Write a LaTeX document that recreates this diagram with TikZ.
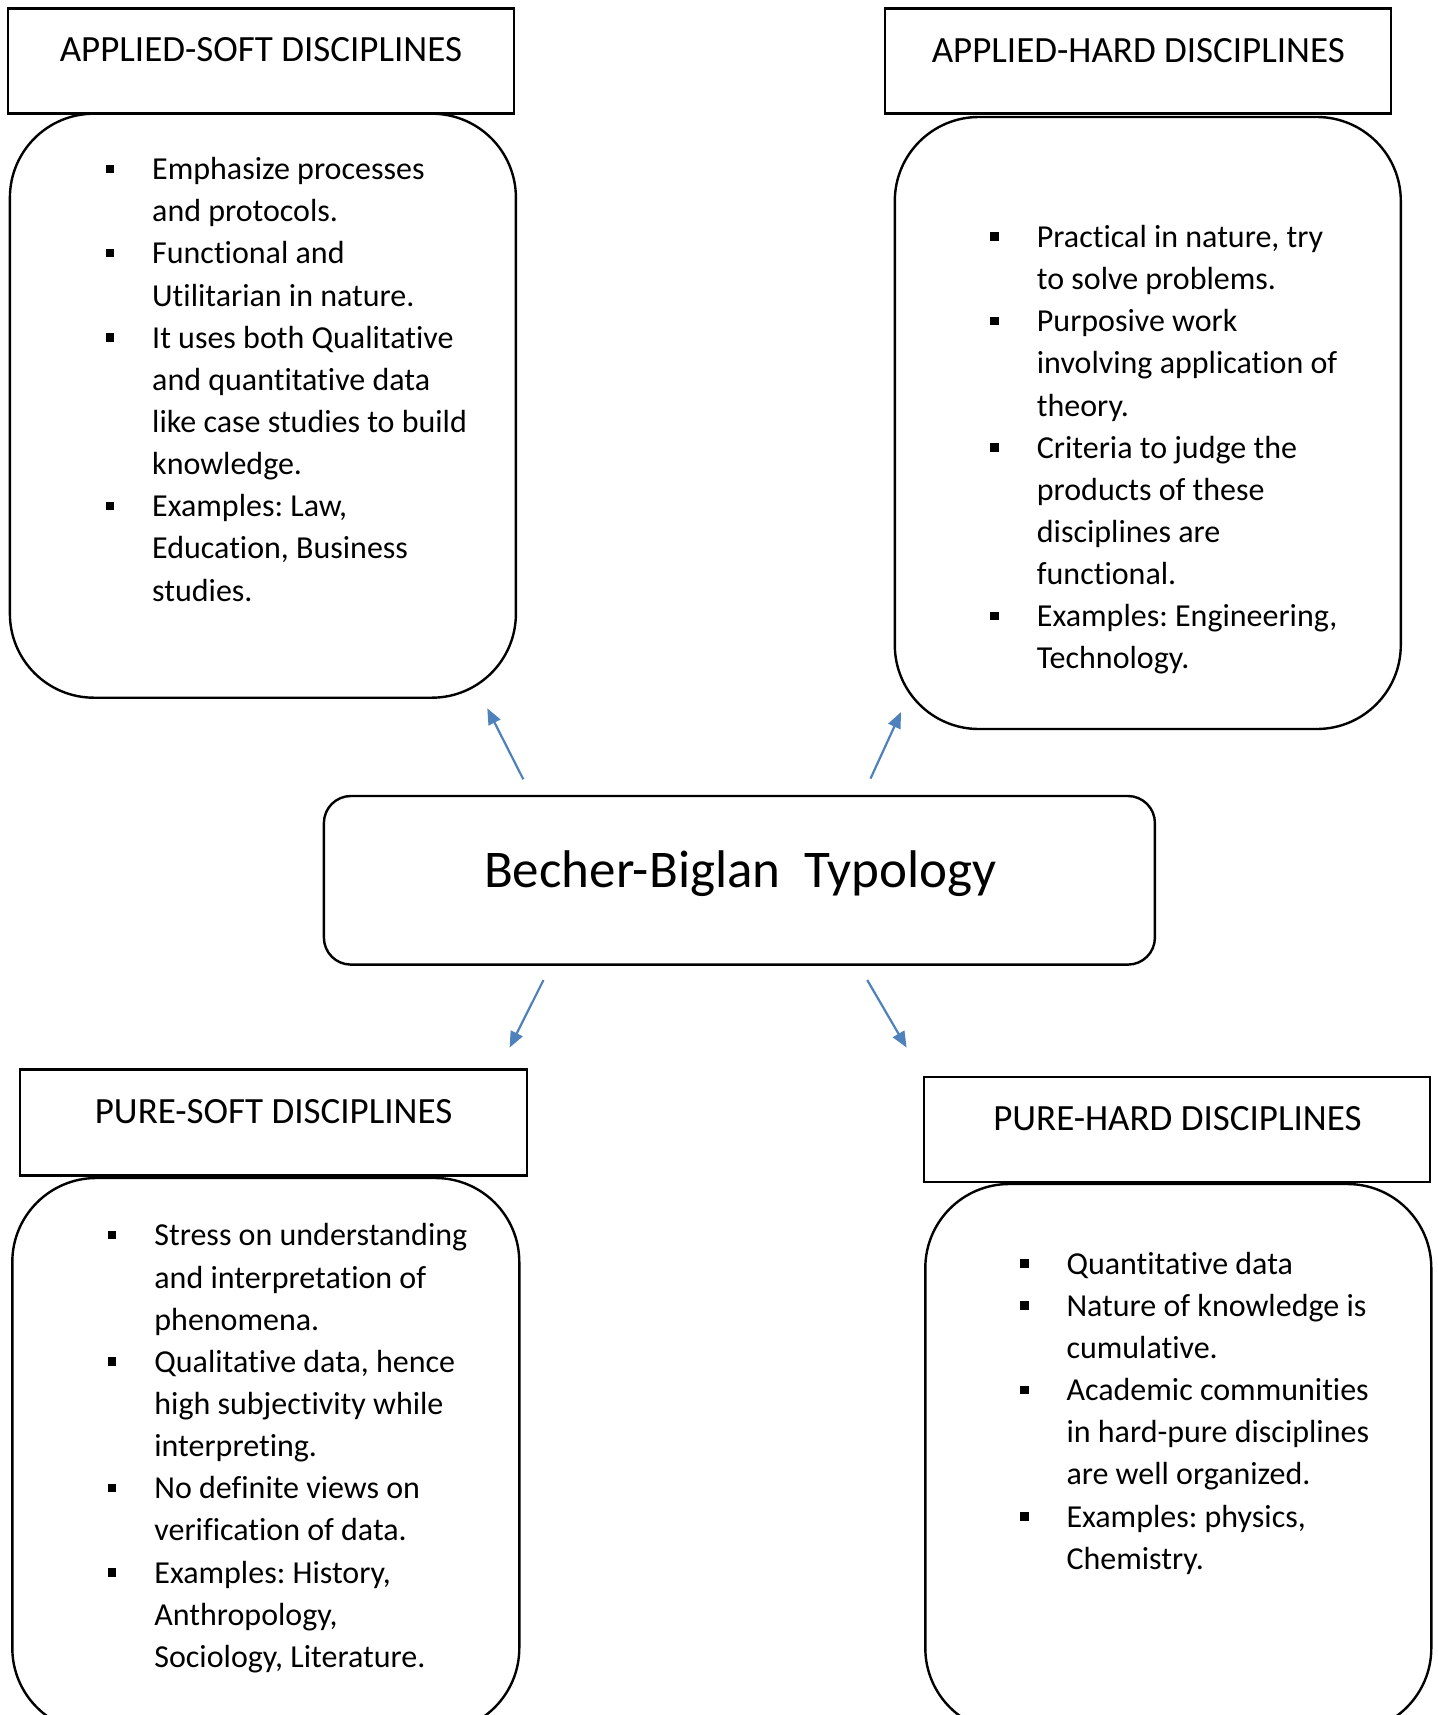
\documentclass[tikz,border=0pt]{standalone}
\usepackage{fontspec}
\setmainfont{Carlito}[Ligatures=CommonOff]
\usetikzlibrary{arrows.meta}
\definecolor{arrowblue}{HTML}{4F81BD}
\frenchspacing
\newcommand\bul{\leavevmode\llap{\rule[6.5pt]{8.5pt}{8.5pt}\hspace{38pt}}}
\newcommand\blk[1]{\parbox[t]{420pt}{\raggedright\frenchspacing\fontsize{32}{42.15}\selectfont #1}}
\begin{document}
\begin{tikzpicture}[x=1pt,y=-1pt,
  hdrbox/.style={draw, line width=2.6pt, inner sep=0pt},
  bodybox/.style={draw, line width=2.4pt, rounded corners=84pt, inner sep=0pt},
  hdrtext/.style={anchor=base, font=\fontsize{37}{44}\selectfont, inner sep=0pt},
  bodytext/.style={anchor=base west, inner sep=0pt},
  conn/.style={arrowblue, line width=2.2pt, -{Triangle[length=16pt,width=13pt]}}]
\useasboundingbox (0,0) rectangle (1437,1715);
\clip (0,0) rectangle (1437,1715);
\fill[white] (0,0) rectangle (1437,1715);

% Applied-soft
\node[hdrbox, minimum width=506pt, minimum height=105pt] (ashdr) at (260.9,61.2) {};
\node[hdrtext] (ashdrtxt) at (260.9,62) {APPLIED-SOFT DISCIPLINES};
\node[bodybox, minimum width=506pt, minimum height=584pt] (asbody) at (262.9,405.7) {};
\node[bodytext] (astext) at (152,179.6) {\blk{%
\bul Emphasize processes\\
and protocols.\\
\bul Functional and\\
Utilitarian in nature.\\
\bul It uses both Qualitative\\
and quantitative data\\
like case studies to build\\
knowledge.\\
\bul Examples: Law,\\
Education, Business\\
studies.}};

% Applied-hard
\node[hdrbox, minimum width=506pt, minimum height=105pt] (ahhdr) at (1138,61.2) {};
\node[hdrtext] (ahhdrtxt) at (1138.3,62.2) {APPLIED-HARD DISCIPLINES};
\node[bodybox, minimum width=506pt, minimum height=612pt] (ahbody) at (1147.8,423) {};
\node[bodytext] (ahtext) at (1036.7,247.4) {\blk{%
\bul Practical in nature, try\\
to solve problems.\\
\bul Purposive work\\
involving application of\\
theory.\\
\bul Criteria to judge the\\
products of these\\
disciplines are\\
functional.\\
\bul Examples: Engineering,\\
Technology.}};

% Center
\node[draw, line width=2.4pt, rounded corners=27pt, inner sep=0pt, minimum width=831pt, minimum height=168.6pt] (center) at (739.4,880.3) {};
\node[anchor=base, inner sep=0pt, font=\fontsize{53}{60}\selectfont] (centertxt) at (740.4,887) {Becher-Biglan~ Typology};

% Pure-soft
\node[hdrbox, minimum width=507pt, minimum height=106pt] (pshdr) at (273.4,1122.6) {};
\node[hdrtext] (pshdrtxt) at (273.6,1123.5) {PURE-SOFT DISCIPLINES};
\node[bodybox, minimum width=507pt, minimum height=554pt] (psbody) at (265.8,1455) {};
\node[bodytext] (pstext) at (154.2,1245.9) {\blk{%
\bul Stress on understanding\\
and interpretation of\\
phenomena.\\
\bul Qualitative data, hence\\
high subjectivity while\\
interpreting.\\
\bul No definite views on\\
verification of data.\\
\bul Examples: History,\\
Anthropology,\\
Sociology, Literature.}};

% Pure-hard
\node[hdrbox, minimum width=506pt, minimum height=105pt] (phhdr) at (1177,1129.5) {};
\node[hdrtext] (phhdrtxt) at (1177.4,1130.2) {PURE-HARD DISCIPLINES};
\node[bodybox, minimum width=506pt, minimum height=548pt] (phbody) at (1178.3,1458) {};
\node[bodytext] (phtext) at (1066.3,1274.2) {\blk{%
\bul Quantitative data\\
\bul Nature of knowledge is\\
cumulative.\\
\bul Academic communities\\
in hard-pure disciplines\\
are well organized.\\
\bul Examples: physics,\\
Chemistry.}};

% Arrows
\coordinate (a1s) at (523.3,779.3);
\coordinate (a1e) at (487.3,708.3);
\coordinate (a2s) at (870.5,778.6);
\coordinate (a2e) at (901,712);
\coordinate (a3s) at (543.5,980);
\coordinate (a3e) at (509.6,1047.6);
\coordinate (a4s) at (867.2,980);
\coordinate (a4e) at (906.6,1047.6);
\draw[conn] (a1s) -- (a1e);
\draw[conn] (a2s) -- (a2e);
\draw[conn] (a3s) -- (a3e);
\draw[conn] (a4s) -- (a4e);
\end{tikzpicture}
\end{document}
